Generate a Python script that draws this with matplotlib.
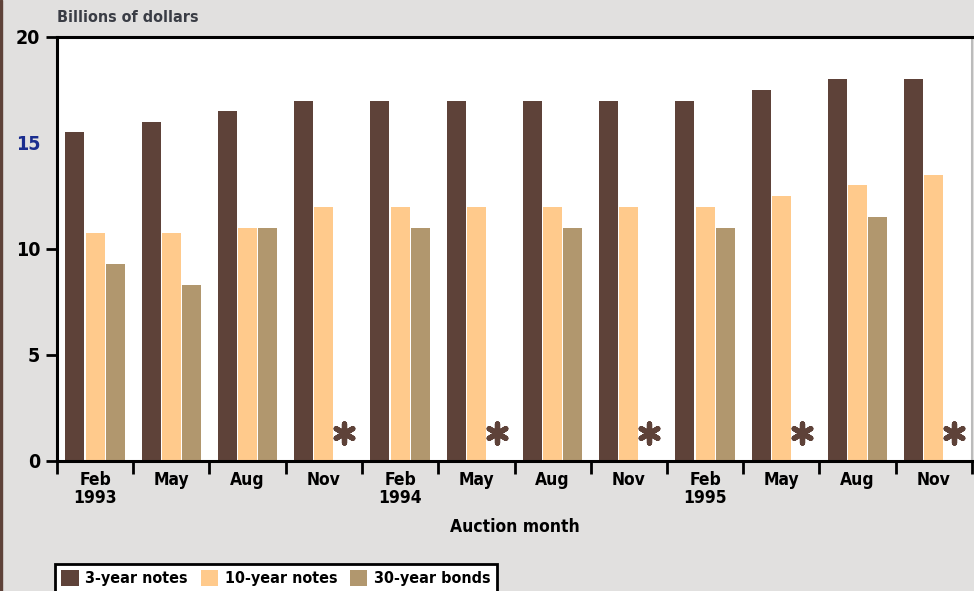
import matplotlib.pyplot as plt
import numpy as np
from matplotlib.patches import Patch

plt.rcParams['font.family'] = ['DejaVu Sans']
plt.rcParams['font.stretch'] = 'condensed'
plt.rcParams['font.weight'] = 'bold'
plt.rcParams['axes.labelweight'] = 'bold'

# auction months and amounts (billions of dollars); nan = no 30-year auction
months = ['Feb\n1993', 'May', 'Aug', 'Nov', 'Feb\n1994', 'May', 'Aug', 'Nov',
          'Feb\n1995', 'May', 'Aug', 'Nov']
notes_3yr = [15.5, 16.0, 16.5, 17.0, 17.0, 17.0, 17.0, 17.0, 17.0, 17.5, 18.0, 18.0]
notes_10yr = [10.75, 10.75, 11.0, 12.0, 12.0, 12.0, 12.0, 12.0, 12.0, 12.5, 13.0, 13.5]
bonds_30yr = [9.3, 8.3, 11.0, np.nan, 11.0, np.nan, 11.0, np.nan, 11.0, np.nan, 11.5, np.nan]
series_names = ['3-year notes', '10-year notes', '30-year bonds']
colors = ['#5E4239', '#FFCA8C', '#B1976E']
bg = '#E1E0DF'

fig = plt.figure(figsize=(9.74, 5.91), dpi=100, facecolor=bg)
ax = fig.add_axes([57/974, 1 - 461/591, (972 - 57)/974, (461 - 37)/591])
ax.set_facecolor('white')

x = np.arange(len(months))
step = 0.265
w = 0.25
for k, vals in enumerate([notes_3yr, notes_10yr, bonds_30yr]):
    ax.bar(x + (k - 1) * step, vals, w, color=colors[k], linewidth=0)

# asterisks where no 30-year bond auction took place
missing = np.isnan(bonds_30yr)
ax.scatter(x[missing] + step, np.full(missing.sum(), 1.3), marker=(6, 2, 0),
           s=190, color='#5E4239', linewidths=3.8, zorder=3)

ax.set_xlim(-0.5, len(months) - 0.5)
ax.set_ylim(0, 20)
ax.set_yticks([0, 5, 10, 15, 20])
ax.set_xticks(x)
ax.set_xticklabels(months, fontsize=12.5, linespacing=1.0)
ax.set_xticks(np.append(x - 0.5, x[-1] + 0.5), minor=True)
ax.tick_params(axis='x', which='major', length=0, pad=7)
ax.tick_params(axis='x', which='minor', length=9, width=2, direction='out')
ax.tick_params(axis='y', length=8, width=2, labelsize=14, pad=4)

ylabels = ax.get_yticklabels()
ylabels[3].set_color('#1A2D8F')
ax.yaxis.get_major_ticks()[3].tick1line.set_visible(False)

for s in ['left', 'top', 'bottom']:
    ax.spines[s].set_linewidth(2.2)
    ax.spines[s].set_color('black')
ax.spines['right'].set_color('#BBBBBB')
ax.spines['right'].set_linewidth(1.5)

fig.text(57/974, 1 - 17/591, 'Billions of dollars', fontsize=11.5,
         color='#3A3D45', va='center', ha='left')
ax.set_xlabel('Auction month', fontsize=12.5, labelpad=8)

handles = [Patch(facecolor=c, edgecolor='none') for c in colors]
leg = fig.legend(handles, series_names, loc='upper left',
                 bbox_to_anchor=(55/974, 1 - 564/591), ncol=3, fontsize=11.5,
                 frameon=True, fancybox=False, edgecolor='black', framealpha=1,
                 facecolor='white',
                 handlelength=1.1, handleheight=1.1, handletextpad=0.4,
                 columnspacing=0.8, borderpad=0.4, borderaxespad=0)
leg.get_frame().set_linewidth(2)

# dark strip at the left edge
fig.patches.append(plt.Rectangle((0, 0), 2/974, 1, transform=fig.transFigure,
                                 color='#5E4239', zorder=5))

fig.savefig('out.png', dpi=100, facecolor=bg)
